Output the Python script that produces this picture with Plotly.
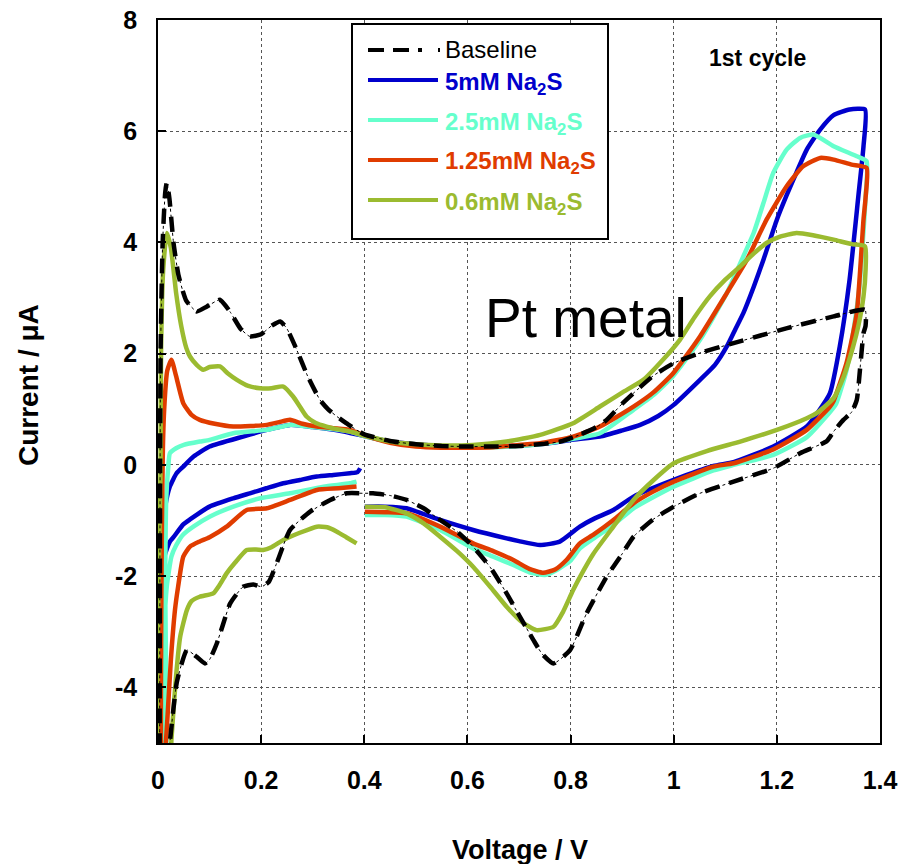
import plotly.graph_objects as go

# ---------------- data (voltage V, current uA) ----------------
X_TICKS = [0, 0.2, 0.4, 0.6, 0.8, 1.0, 1.2, 1.4]
X_TICK_TEXT = ["0", "0.2", "0.4", "0.6", "0.8", "1", "1.2", "1.4"]
Y_TICKS = [-4, -2, 0, 2, 4, 6, 8]
Y_TICK_TEXT = ["-4", "-2", "0", "2", "4", "6", "8"]

BASELINE = [(0.003, -6), (0.005, 2.0), (0.009, 3.99), (0.014, 4.9), (0.017, 5.07), (0.022, 4.8),
            (0.03, 4.0), (0.04, 3.4), (0.055, 2.95), (0.075, 2.76), (0.095, 2.85), (0.12, 2.97),
            (0.14, 2.75), (0.16, 2.45), (0.178, 2.31), (0.2, 2.35), (0.22, 2.5), (0.237, 2.58),
            (0.25, 2.45), (0.269, 2.07), (0.29, 1.6), (0.314, 1.17), (0.33, 1.0), (0.347, 0.87),
            (0.365, 0.75), (0.385, 0.63), (0.4, 0.55), (0.45, 0.43), (0.5, 0.37), (0.55, 0.34),
            (0.6, 0.33), (0.65, 0.33), (0.7, 0.34), (0.75, 0.38), (0.78, 0.42), (0.82, 0.55),
            (0.85, 0.68), (0.87, 0.81), (0.9, 1.1), (0.922, 1.29), (0.96, 1.6), (1.0, 1.83),
            (1.05, 2.01), (1.116, 2.19), (1.22, 2.46), (1.31, 2.67), (1.371, 2.79),
            (1.372, 2.5), (1.368, 2.37), (1.362, 1.8), (1.355, 1.17), (1.345, 0.95), (1.329, 0.81),
            (1.31, 0.6), (1.297, 0.43), (1.245, 0.21), (1.193, -0.06), (1.116, -0.30), (1.051, -0.51),
            (1.0, -0.75), (0.96, -0.98), (0.922, -1.29), (0.9, -1.6), (0.87, -2.01), (0.831, -2.67),
            (0.799, -3.33), (0.767, -3.57), (0.745, -3.4), (0.728, -3.15), (0.7, -2.7), (0.676, -2.31),
            (0.645, -1.85), (0.611, -1.47), (0.58, -1.2), (0.547, -0.99), (0.515, -0.78), (0.482, -0.63),
            (0.45, -0.55), (0.417, -0.51), (0.398, -0.51), (0.366, -0.51), (0.334, -0.63), (0.295, -0.84),
            (0.256, -1.17), (0.23, -1.77), (0.215, -2.1), (0.201, -2.19), (0.185, -2.15), (0.165, -2.19),
            (0.14, -2.49), (0.125, -2.9), (0.114, -3.21), (0.1, -3.5), (0.091, -3.57), (0.075, -3.45),
            (0.056, -3.33), (0.045, -3.6), (0.036, -3.93), (0.023, -5.0), (0.018, -6)]

NA2S_5MM = [(0.392, -0.06), (0.387, -0.13), (0.372, -0.15), (0.34, -0.18), (0.308, -0.21), (0.275, -0.27),
            (0.243, -0.33), (0.21, -0.42), (0.178, -0.51), (0.146, -0.6), (0.1, -0.75), (0.062, -0.98),
            (0.049, -1.07), (0.03, -1.3), (0.023, -1.38), (0.01, -1.71), (0.006, -1.85),
            (0.007, -1.77), (0.009, -1.23), (0.014, -0.75), (0.023, -0.39), (0.036, -0.15), (0.049, -0.03),
            (0.069, 0.15), (0.1, 0.33), (0.165, 0.51), (0.211, 0.63), (0.256, 0.72), (0.3, 0.68),
            (0.35, 0.62), (0.4, 0.52), (0.45, 0.42), (0.5, 0.37), (0.55, 0.34), (0.6, 0.33), (0.65, 0.33),
            (0.7, 0.35), (0.75, 0.38), (0.8, 0.45), (0.857, 0.51), (0.9, 0.62), (0.935, 0.72), (0.97, 0.88),
            (1.0, 1.08), (1.051, 1.53), (1.08, 1.8), (1.103, 2.13), (1.12, 2.45), (1.135, 2.73),
            (1.155, 3.2), (1.174, 3.69), (1.2, 4.41), (1.219, 4.85), (1.232, 5.13), (1.258, 5.67),
            (1.284, 6.03), (1.31, 6.29), (1.341, 6.39), (1.371, 6.39),
            (1.368, 5.73), (1.358, 4.83), (1.341, 3.33), (1.322, 2.13), (1.303, 1.29), (1.28, 0.95),
            (1.258, 0.69), (1.193, 0.33), (1.116, 0.05), (1.077, -0.02), (1.0, -0.27), (0.922, -0.57),
            (0.883, -0.81), (0.845, -0.97), (0.818, -1.11), (0.779, -1.38), (0.741, -1.44), (0.7, -1.37),
            (0.676, -1.32), (0.611, -1.17), (0.547, -0.99), (0.482, -0.78), (0.44, -0.75), (0.401, -0.75)]

NA2S_2P5MM = [(0.385, -0.3), (0.372, -0.33), (0.321, -0.39), (0.256, -0.51), (0.198, -0.6), (0.146, -0.75),
              (0.1, -0.93), (0.07, -1.1), (0.049, -1.25), (0.035, -1.45), (0.026, -1.65), (0.017, -2.19),
              (0.012, -3.0), (0.009, -4.5), (0.008, -6),
              (0.013, -6), (0.014, -2.0), (0.016, -0.6), (0.02, -0.03), (0.023, 0.21), (0.035, 0.3),
              (0.05, 0.36), (0.081, 0.42), (0.1, 0.45), (0.146, 0.57), (0.211, 0.63), (0.256, 0.72),
              (0.29, 0.69), (0.321, 0.66), (0.372, 0.6), (0.4, 0.52), (0.45, 0.42), (0.5, 0.35),
              (0.55, 0.32), (0.6, 0.32), (0.65, 0.32), (0.7, 0.34), (0.741, 0.37), (0.8, 0.46),
              (0.857, 0.57), (0.922, 0.99), (0.96, 1.25), (0.999, 1.6), (1.051, 2.25), (1.103, 3.09),
              (1.135, 3.75), (1.155, 4.17), (1.174, 4.71), (1.193, 5.25), (1.219, 5.67), (1.245, 5.88),
              (1.271, 5.94), (1.31, 5.73), (1.355, 5.55), (1.374, 5.46),
              (1.372, 4.8), (1.368, 4.2), (1.36, 3.2), (1.35, 2.5), (1.335, 1.7), (1.315, 1.1),
              (1.303, 0.95), (1.258, 0.5), (1.193, 0.18), (1.116, 0.0), (1.077, -0.1), (1.0, -0.39),
              (0.96, -0.58), (0.922, -0.78), (0.883, -1.08), (0.845, -1.32), (0.818, -1.5), (0.8, -1.72),
              (0.775, -1.88), (0.75, -1.98), (0.72, -1.93), (0.689, -1.8), (0.65, -1.65), (0.611, -1.5),
              (0.547, -1.17), (0.482, -0.93), (0.44, -0.9), (0.401, -0.9)]

NA2S_1P25MM = [(0.385, -0.39), (0.35, -0.42), (0.308, -0.45), (0.256, -0.63), (0.211, -0.78), (0.172, -0.81),
               (0.133, -1.11), (0.1, -1.3), (0.08, -1.38), (0.062, -1.47), (0.049, -1.65), (0.039, -2.19),
               (0.033, -2.6), (0.025, -3.5), (0.018, -4.6), (0.014, -5.2), (0.012, -6),
               (0.009, -6), (0.009, 0.0), (0.012, 1.0), (0.018, 1.7), (0.026, 1.89), (0.035, 1.6),
               (0.049, 1.11), (0.065, 0.9), (0.081, 0.81), (0.11, 0.74), (0.146, 0.69), (0.18, 0.7),
               (0.211, 0.72), (0.235, 0.77), (0.256, 0.81), (0.28, 0.74), (0.308, 0.69), (0.34, 0.66),
               (0.372, 0.63), (0.4, 0.53), (0.45, 0.4), (0.5, 0.33), (0.55, 0.31), (0.6, 0.31), (0.65, 0.32),
               (0.7, 0.36), (0.741, 0.39), (0.805, 0.51), (0.857, 0.69), (0.922, 1.05), (0.96, 1.3),
               (0.999, 1.65), (1.051, 2.31), (1.103, 3.09), (1.142, 3.69), (1.18, 4.41), (1.219, 5.01),
               (1.251, 5.37), (1.284, 5.52), (1.31, 5.49), (1.345, 5.4), (1.374, 5.34),
               (1.372, 4.8), (1.368, 4.41), (1.355, 2.73), (1.335, 1.83), (1.31, 1.15), (1.303, 1.05),
               (1.258, 0.63), (1.193, 0.28), (1.116, 0.03), (1.077, -0.03), (1.0, -0.3), (0.96, -0.48),
               (0.922, -0.69), (0.883, -0.99), (0.845, -1.25), (0.818, -1.41), (0.792, -1.71), (0.77, -1.88),
               (0.747, -1.94), (0.72, -1.87), (0.689, -1.71), (0.65, -1.55), (0.611, -1.41), (0.547, -1.11),
               (0.482, -0.87), (0.44, -0.85), (0.401, -0.84)]

NA2S_0P6MM = [(0.385, -1.41), (0.365, -1.3), (0.347, -1.2), (0.328, -1.12), (0.308, -1.11), (0.275, -1.22),
              (0.243, -1.35), (0.22, -1.48), (0.204, -1.53), (0.19, -1.52), (0.172, -1.53), (0.15, -1.75),
              (0.133, -1.95), (0.12, -2.15), (0.107, -2.31), (0.081, -2.37), (0.065, -2.45), (0.056, -2.61),
              (0.043, -3.09), (0.035, -3.8), (0.026, -4.95), (0.022, -6),
              (0.005, -6), (0.005, 0.0), (0.006, 2.07), (0.01, 3.5), (0.017, 4.17), (0.025, 3.9),
              (0.035, 3.1), (0.045, 2.5), (0.055, 2.1), (0.062, 1.95), (0.075, 1.8), (0.088, 1.71),
              (0.1, 1.76), (0.12, 1.77), (0.135, 1.65), (0.153, 1.53), (0.175, 1.42), (0.198, 1.38),
              (0.22, 1.38), (0.243, 1.41), (0.262, 1.23), (0.275, 1.05), (0.288, 0.87), (0.305, 0.76),
              (0.327, 0.69), (0.35, 0.64), (0.372, 0.6), (0.4, 0.53), (0.45, 0.42), (0.5, 0.37),
              (0.55, 0.35), (0.611, 0.36), (0.676, 0.42), (0.741, 0.54), (0.805, 0.75), (0.857, 1.05),
              (0.9, 1.3), (0.941, 1.53), (0.98, 1.9), (1.012, 2.25), (1.04, 2.65), (1.07, 3.03), (1.1, 3.33),
              (1.129, 3.57), (1.155, 3.8), (1.18, 3.99), (1.205, 4.1), (1.238, 4.17), (1.27, 4.13),
              (1.31, 4.05), (1.345, 3.97), (1.371, 3.93),
              (1.372, 3.5), (1.368, 3.03), (1.358, 2.5), (1.348, 2.13), (1.33, 1.6), (1.31, 1.2),
              (1.28, 0.95), (1.258, 0.84), (1.2, 0.63), (1.129, 0.42), (1.064, 0.25), (1.0, 0.03),
              (0.96, -0.28), (0.922, -0.63), (0.883, -1.11), (0.844, -1.6), (0.825, -1.9), (0.805, -2.25),
              (0.785, -2.65), (0.767, -2.91), (0.734, -2.97), (0.705, -2.82), (0.676, -2.55), (0.645, -2.2),
              (0.611, -1.83), (0.58, -1.55), (0.547, -1.29), (0.515, -1.05), (0.482, -0.87), (0.44, -0.76),
              (0.401, -0.75)]

SERIES_NAMES = ["5mM Na<sub>2</sub>S", "2.5mM Na<sub>2</sub>S", "1.25mM Na<sub>2</sub>S", "0.6mM Na<sub>2</sub>S"]
SERIES_DATA = [NA2S_5MM, NA2S_2P5MM, NA2S_1P25MM, NA2S_0P6MM]
SERIES_COLORS = ["#0000CC", "#66FFCC", "#E03C00", "#9BBB30"]

FONT = "Liberation Sans"

fig = go.Figure()

for name, pts, col in zip(SERIES_NAMES, SERIES_DATA, SERIES_COLORS):
    xs, ys = zip(*pts)
    fig.add_trace(go.Scatter(x=list(xs), y=list(ys), mode="lines", name=name,
                             line=dict(color=col, width=4.5, shape="spline", smoothing=0.5),
                             showlegend=False))

bx, by = zip(*BASELINE)
fig.add_trace(go.Scatter(x=list(bx), y=list(by), mode="lines", name="Baseline",
                         line=dict(color="black", width=1, dash="dot", shape="spline", smoothing=0.5),
                         showlegend=False))
fig.add_trace(go.Scatter(x=list(bx), y=list(by), mode="lines", name="Baseline",
                         line=dict(color="black", width=4.5, dash="15px,10px", shape="spline", smoothing=0.5),
                         showlegend=False))

# ---------------- manual legend (box, samples, labels) ----------------
def px_x(p):
    return (p - 158) / 722.0

def px_y(p):
    return (743 - p) / 723.0

shapes = [dict(type="rect", xref="paper", yref="paper", x0=px_x(352), x1=px_x(608),
               y0=px_y(239), y1=px_y(24), line=dict(color="black", width=2),
               fillcolor="white", layer="above")]
rows = [50, 80, 120, 160, 200]
legend_labels = ["Baseline"] + ["<b>" + n + "</b>" for n in SERIES_NAMES]
legend_colors = ["black"] + SERIES_COLORS
annotations = []
for i, (ry, lab, col) in enumerate(zip(rows, legend_labels, legend_colors)):
    if i == 0:
        shapes.append(dict(type="line", xref="paper", yref="paper", x0=px_x(368), x1=px_x(440),
                           y0=px_y(ry), y1=px_y(ry), layer="above",
                           line=dict(color="black", width=4, dash="16px,9px,16px,9px,4px")))
    else:
        shapes.append(dict(type="line", xref="paper", yref="paper", x0=px_x(368), x1=px_x(438),
                           y0=px_y(ry), y1=px_y(ry), layer="above",
                           line=dict(color=col, width=4)))
    annotations.append(dict(xref="paper", yref="paper", x=px_x(443), y=px_y(ry + (0 if i == 0 else 3)),
                            xanchor="left", yanchor="middle", showarrow=False, text=lab,
                            font=dict(family=FONT, size=24, color=col)))

annotations += [
    dict(xref="x", yref="y", x=0.83, y=2.64, text="Pt metal", showarrow=False,
         font=dict(family=FONT, size=55, color="black"), xanchor="center", yanchor="middle"),
    dict(xref="x", yref="y", x=1.163, y=7.32, text="<b>1st cycle</b>", showarrow=False,
         font=dict(family=FONT, size=23, color="black"), xanchor="center", yanchor="middle"),
    dict(xref="paper", yref="paper", x=px_x(28), y=px_y(385), text="<b>Current / μA</b>",
         textangle=-90, showarrow=False, font=dict(family=FONT, size=28, color="black"),
         xanchor="center", yanchor="middle"),
    dict(xref="paper", yref="paper", x=px_x(520), y=px_y(850), text="<b>Voltage / V</b>",
         showarrow=False, font=dict(family=FONT, size=27, color="black"),
         xanchor="center", yanchor="middle"),
]

axis_common = dict(showgrid=True, gridcolor="#555555", griddash="dot", gridwidth=1,
                   showline=True, linecolor="black", linewidth=1.5, mirror=True,
                   ticks="inside", ticklen=8, tickwidth=1.5, tickcolor="black", zeroline=False,
                   automargin=False,
                   tickfont=dict(family=FONT, size=25, color="black", weight="bold"))

fig.update_layout(
    width=901, height=864,
    margin=dict(l=158, r=21, t=20, b=121, autoexpand=False),
    paper_bgcolor="white", plot_bgcolor="white",
    showlegend=False,
    xaxis=dict(range=[0, 1.4], tickvals=X_TICKS, ticktext=X_TICK_TEXT, ticklabelstandoff=14,
               **axis_common),
    yaxis=dict(range=[-5, 8], tickvals=Y_TICKS, ticktext=Y_TICK_TEXT, ticklabelstandoff=14,
               **axis_common),
    shapes=shapes,
    annotations=annotations,
)

fig.write_html("out.html")
